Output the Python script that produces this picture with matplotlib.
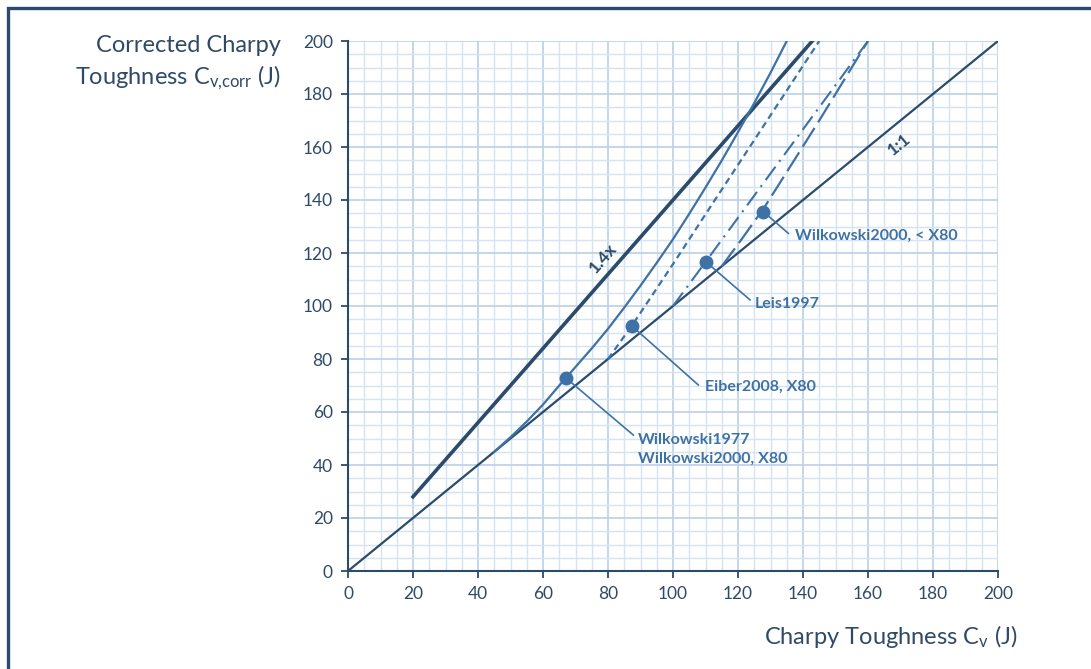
import numpy as np
import matplotlib
matplotlib.use("Agg")
import matplotlib.pyplot as plt
from matplotlib.patches import Rectangle

plt.rcParams['font.family'] = ['Lato', 'DejaVu Sans']
plt.rcParams['mathtext.fontset'] = 'custom'
plt.rcParams['mathtext.rm'] = 'Lato'

# Read-off data
one_to_one_x = [0, 200]
one_to_one_y = [0, 200]

factor_x = [20, 142.86]
factor_y = [28, 200]

wilk1977_x = [45, 50, 55, 60, 65, 70, 75, 80, 85, 90, 95, 100, 105, 110, 115, 120, 125, 130, 135]
wilk1977_y = [45, 50.5, 56.4, 62.8, 70.0, 77.0, 84.0, 91.4, 99.4, 107.7, 116.3, 125.2, 134.8,
              144.7, 154.9, 165.6, 176.6, 188.0, 200]

eiber_x = [80, 87.3, 100, 110, 125, 145]
eiber_y = [80, 92.5, 115.8, 134.6, 162.6, 200]

leis_x = [100, 110, 130, 160]
leis_y = [100, 116.6, 150, 200]

wilk2000_x = [115, 121, 128, 136, 145, 160]
wilk2000_y = [115, 125, 137, 152.5, 170, 200]

points = {
    'Wilkowski2000, < X80': (127.8, 135.6),
    'Leis1997': (110.2, 116.6),
    'Eiber2008, X80': (87.3, 92.5),
    'Wilkowski1977\nWilkowski2000, X80': (67.0, 72.9),
}
label_pos = {
    'Wilkowski2000, < X80': (137.5, 126.4, 135.5, 127.4),
    'Leis1997': (125.2, 100.8, 123.7, 102.3),
    'Eiber2008, X80': (109.8, 69.4, 107.8, 70.2),
    'Wilkowski1977\nWilkowski2000, X80': (89.2, 45.8, 87.8, 51.3),
}

dark = '#2b4b6d'
blue = '#3e72a6'
txt = '#2f4a68'

fig = plt.figure(figsize=(10.91, 6.69), dpi=100)
ax = fig.add_axes([348/1091, 1-571/669, 650/1091, 530/669])

ax.set_xlim(0, 200)
ax.set_ylim(0, 200)
ax.set_xticks(np.arange(0, 201, 20))
ax.set_yticks(np.arange(0, 201, 20))
ax.set_xticks(np.arange(0, 201, 5), minor=True)
ax.set_yticks(np.arange(0, 201, 5), minor=True)
ax.grid(which='major', color='#bfd3e8', lw=1.3, zorder=0)
ax.grid(which='minor', color='#d6e3f1', lw=1.0, zorder=0)
ax.set_axisbelow(True)
for s in ['top', 'right']:
    ax.spines[s].set_visible(False)
for s in ['left', 'bottom']:
    ax.spines[s].set_color(dark)
    ax.spines[s].set_linewidth(1.5)
ax.tick_params(which='major', direction='out', length=5, width=1.3, color=dark,
               labelsize=12.5, labelcolor=txt, pad=6)
ax.tick_params(which='minor', length=0)

ax.plot(one_to_one_x, one_to_one_y, color=dark, lw=1.6, zorder=3)
ax.plot(factor_x, factor_y, color=dark, lw=2.6, zorder=3)
ax.plot(wilk1977_x, wilk1977_y, color=blue, lw=1.6, zorder=3)
ax.plot(eiber_x, eiber_y, color=blue, lw=1.6, dashes=(3, 2), zorder=3)
ax.plot(leis_x, leis_y, color=blue, lw=1.5, dashes=(8, 3, 1, 3), zorder=3)
ax.plot(wilk2000_x, wilk2000_y, color=blue, lw=1.6, dashes=(10, 3), zorder=3)

for name, (px, py) in points.items():
    tx, ty, lx, ly = label_pos[name]
    ax.plot([px, lx], [py, ly], color=blue, lw=1.2, zorder=4)
    ax.plot(px, py, 'o', color=blue, ms=9, zorder=5)
    ax.text(tx, ty, name, color=blue, fontsize=11.5, fontweight='bold',
            ha='left', va='center', linespacing=1.4, zorder=6)

ax.text(78.5, 118, '1.4x', color=dark, fontsize=12.5, fontweight='bold',
        rotation=48.8, ha='center', va='center', rotation_mode='anchor')
ax.text(169.5, 161, '1:1', color=dark, fontsize=12.5, fontweight='bold',
        rotation=39.2, ha='center', va='center', rotation_mode='anchor')

fig.text(1018/1091, 1-637/669, r'Charpy Toughness $\mathregular{C_v}$ (J)',
         ha='right', va='center', fontsize=17, color=txt)
fig.text(281/1091, 1-45/669, 'Corrected Charpy', ha='right', va='center',
         fontsize=17, color=txt)
fig.text(281/1091, 1-78/669, r'Toughness $\mathregular{C_{v{,}corr}}$ (J)',
         ha='right', va='center', fontsize=17, color=txt)

fig.patches.append(Rectangle((8/1091, -0.2), 1.5, 1.2 - 8/669, transform=fig.transFigure,
                             fill=False, edgecolor=dark, lw=2.4))

fig.savefig('out.png', dpi=100)
